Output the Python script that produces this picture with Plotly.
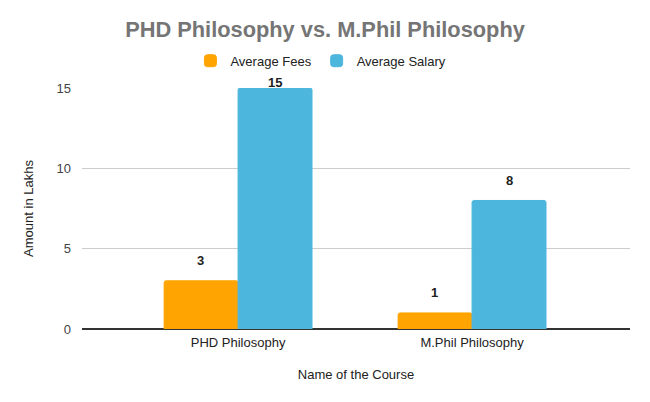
import plotly.graph_objects as go

categories = ["PHD Philosophy", "M.Phil Philosophy"]
avg_fees = [3, 1]
avg_salary = [15, 8]
series_names = ["Average Fees", "Average Salary"]
colors = ["#FFA400", "#4DB6DD"]

font_family = "Liberation Sans, Arial, sans-serif"

fig = go.Figure()
for name, vals, col in zip(series_names, [avg_fees, avg_salary], colors):
    fig.add_trace(go.Bar(
        x=categories, y=vals, name=name,
        marker=dict(color=col, line=dict(color=col, width=1), cornerradius=2),
    ))

# data labels above bars (labels near the top of the plot are pulled closer)
offsets = [-0.1585, 0.1585]
annotations = []
for off, vals in zip(offsets, [avg_fees, avg_salary]):
    for i, v in enumerate(vals):
        annotations.append(dict(
            x=i + off, y=v, xref="x", yref="y",
            yshift=20 if v < 14 else 6,
            text=f"<b>{v}</b>", showarrow=False,
            font=dict(size=13, color="#222222", family=font_family),
        ))

fig.update_layout(
    width=650, height=402,
    margin=dict(l=82, r=20, t=88, b=73),
    paper_bgcolor="white", plot_bgcolor="white",
    title=dict(text="<b>PHD Philosophy vs. M.Phil Philosophy</b>", x=0.5, xanchor="center",
               y=0.927, yanchor="middle",
               font=dict(size=21.8, color="#757575", family=font_family)),
    legend=dict(orientation="h", x=0.436, xanchor="center",
                y=1.113, yanchor="middle",
                font=dict(size=13, color="#222222", family=font_family),
                itemwidth=30, traceorder="normal"),
    barmode="group", bargap=0.368, bargroupgap=0.0,
    annotations=annotations,
    font=dict(family=font_family, size=13, color="#444444"),
)
fig.update_xaxes(
    range=[-0.667, 1.675], showgrid=False, zeroline=False,
    showline=False, ticks="", ticklabelstandoff=4,
    tickfont=dict(size=13, color="#222222"),
    title=dict(text="Name of the Course", font=dict(size=13, color="#222222"), standoff=20),
)
fig.update_yaxes(
    range=[0, 15], tickvals=[0, 5, 10, 15], showgrid=True, gridcolor="#CCCCCC", gridwidth=1,
    zeroline=True, zerolinecolor="#333333", zerolinewidth=1.5,
    ticks="", ticklabelstandoff=10,
    tickfont=dict(size=13, color="#444444"),
    title=dict(text="Amount in Lakhs", font=dict(size=13, color="#222222"), standoff=19),
)

fig.write_html("out.html")
